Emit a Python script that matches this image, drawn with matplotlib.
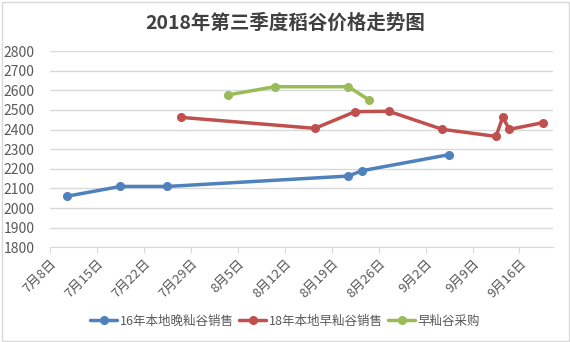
import numpy as np
import pandas as pd
import matplotlib
matplotlib.use("Agg")
import matplotlib.pyplot as plt
from matplotlib.patches import Rectangle

plt.rcParams['font.family'] = ['Noto Sans CJK SC', 'DejaVu Sans']

# ---------------- data ----------------
late_dates = ['2018-07-10', '2018-07-18', '2018-07-25', '2018-08-21', '2018-08-23', '2018-09-05']
late_price = [2060, 2110, 2110, 2163, 2190, 2272]

early_dates = ['2018-07-27', '2018-08-16', '2018-08-22', '2018-08-27', '2018-09-04',
               '2018-09-12', '2018-09-13', '2018-09-14', '2018-09-19']
early_price = [2462, 2406, 2491, 2493, 2401, 2365, 2462, 2401, 2435]

buy_dates = ['2018-08-03', '2018-08-10', '2018-08-21', '2018-08-24']
buy_price = [2576, 2618, 2618, 2552]

series_names = ['16年本地晚籼谷销售', '18年本地早籼谷销售', '早籼谷采购']
colors = ['#4F81BD', '#C0504D', '#9BBB59']

title = '2018年第三季度稻谷价格走势图'
# --------------------------------------

W, H = 570, 342
fig = plt.figure(figsize=(W / 100, H / 100), dpi=100)
fig.patch.set_facecolor('white')

# thin border around the chart
fig.patches.append(Rectangle((1.5 / W, 1.5 / H), 1 - 3 / W, 1 - 3.5 / H, transform=fig.transFigure,
                             fill=False, edgecolor='#d9d9d9', linewidth=1))

x0, x1 = 50, 553
y_top, y_bot = 51, 247.3
ax = fig.add_axes([x0 / W, (H - y_bot) / H, (x1 - x0) / W, (y_bot - y_top) / H])

half_day = pd.Timedelta(hours=12)  # points sit in the middle of the day slot
all_dates = [late_dates, early_dates, buy_dates]
all_prices = [late_price, early_price, buy_price]
for d, p, c, name in zip(all_dates, all_prices, colors, series_names):
    ax.plot(pd.to_datetime(d) + half_day, p, color=c, linewidth=2.5, marker='o',
            markersize=5.5, label=name, solid_capstyle='round', zorder=3)

start = pd.Timestamp('2018-07-08')
ax.set_xlim(start, start + pd.Timedelta(days=75))
ticks = [start + pd.Timedelta(days=7 * k) for k in range(11)]
ax.set_xticks(ticks)
ax.set_xticklabels([f'{t.month}月{t.day}日' for t in ticks], rotation=45, ha='right',
                   rotation_mode='anchor', fontsize=9.5, color='#595959')

ax.set_ylim(1800, 2800)
ax.set_yticks(np.arange(1800, 2801, 100))
ax.tick_params(axis='y', length=0, pad=11, labelsize=10, labelcolor='#595959')
ax.tick_params(axis='x', length=4, color='#d9d9d9', pad=3)
ax.grid(axis='y', color='#d9d9d9', linewidth=1)
ax.set_axisbelow(True)

for s in ['top', 'right', 'left']:
    ax.spines[s].set_visible(False)
ax.spines['bottom'].set_color('#d9d9d9')

fig.text(0.5, 1 - 23 / H, title, ha='center', va='center', fontsize=14,
         fontweight='bold', color='#404040')

fig.legend(loc='center', bbox_to_anchor=(0.5, 1 - 321 / H), ncol=3, frameon=False,
           fontsize=9, handlelength=2.2, handletextpad=0.2, columnspacing=0.4,
           labelcolor='#595959')

fig.savefig('out.png', dpi=100)
